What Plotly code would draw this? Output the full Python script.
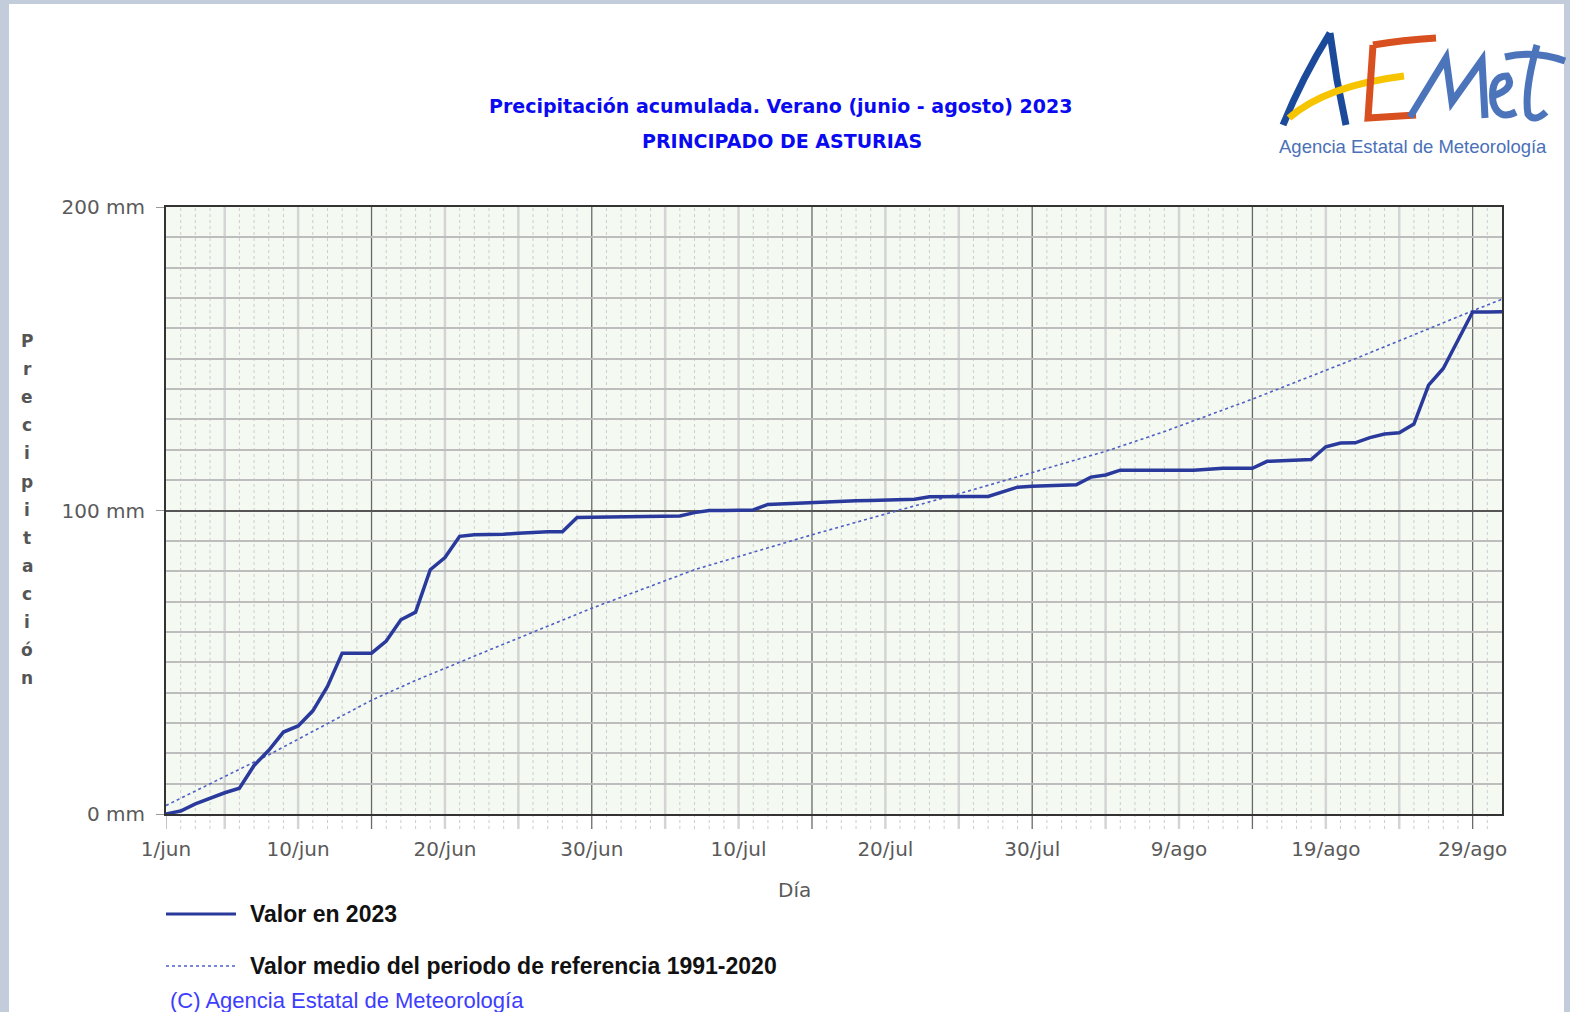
import plotly.graph_objects as go

# ---------------- data ----------------
dias = list(range(92))  # 0 = 1/jun ... 91 = 31/ago
valor_2023 = [0.0, 1.0, 3.3, 5.3, 7.0, 8.5, 16.0, 21.0, 27.0, 29.0,
              34.0, 42.0, 53.0, 53.0, 53.0, 57.0, 64.0, 66.5, 80.5, 84.5,
              91.5, 92.0, 92.0, 92.2, 92.5, 92.8, 93.0, 93.0, 97.7, 97.8,
              97.9, 98.0, 98.0, 98.1, 98.1, 98.2, 99.3, 100.0, 100.0, 100.1,
              100.2, 102.0, 102.2, 102.5, 102.8, 102.9, 103.0, 103.2, 103.3, 103.4,
              103.5, 103.7, 104.5, 104.6, 104.6, 104.6, 104.6, 106.3, 107.7, 108.0,
              108.2, 108.3, 108.5, 111.0, 111.7, 113.3, 113.3, 113.3, 113.3, 113.3,
              113.3, 113.6, 113.9, 113.9, 113.9, 116.2, 116.4, 116.5, 116.8, 121.0,
              122.2, 122.3, 124.0, 125.2, 125.6, 128.5, 141.3, 146.8, 156.0, 165.4,
              165.4, 165.5]
dias_ref = [0, 7, 14, 17, 22, 29, 36, 44, 50, 54, 59, 64, 68, 74, 81, 86, 89, 91]
valor_ref = [2.8, 19.5, 37.5, 44.0, 54.0, 67.8, 80.5, 92.0, 100.2, 105.5,
             112.5, 119.5, 126.0, 136.7, 150.0, 160.0, 165.8, 169.6]

tick_dias = [0, 9, 19, 29, 39, 49, 59, 69, 79, 89]
tick_textos = ["1/jun", "10/jun", "20/jun", "30/jun", "10/jul", "20/jul",
               "30/jul", "9/ago", "19/ago", "29/ago"]
y_ticks = [0, 100, 200]
y_textos = ["0 mm", "100 mm", "200 mm"]

# ---------------- layout geometry ----------------
W, H = 1570, 1012
L, R, T, B = 166, 68, 207, 198
PW = W - L - R
PH = H - T - B


def px(xp):
    return (xp - L) / PW


def py(yp):
    return (H - B - yp) / PH


NAVY = "#2a3a9c"
REFC = "#4f5fc4"
GRAYTXT = "#5a5a5a"

fig = go.Figure()
fig.add_trace(go.Scatter(x=dias_ref, y=valor_ref, mode="lines",
                         line=dict(color=REFC, width=1.6, dash="dot"),
                         showlegend=False, hoverinfo="skip"))
fig.add_trace(go.Scatter(x=dias, y=valor_2023, mode="lines",
                         line=dict(color=NAVY, width=3.5),
                         showlegend=False, hoverinfo="skip"))

shapes = []
# blue-grey page border around white card
BORDER = "#c3ccdb"
for (x0, y0, x1, y1) in [(0, 0, 9, H), (0, 0, W, 4), (1564, 0, W, H)]:
    shapes.append(dict(type="rect", xref="paper", yref="paper",
                       x0=px(x0), x1=px(x1), y0=py(y0), y1=py(y1),
                       fillcolor=BORDER, line=dict(width=0), layer="below"))

# vertical grid: daily dotted, every 5 days light, every 15 days dark
ext = py(H - B + 15)
for d in range(1, 91):
    if (d - 14) % 15 == 0:
        continue
    if (d - 4) % 5 == 0:
        shapes.append(dict(type="line", xref="x", yref="paper", x0=d, x1=d,
                           y0=ext, y1=1, line=dict(color="#d4d4d4", width=2.5),
                           layer="below"))
    else:
        shapes.append(dict(type="line", xref="x", yref="paper", x0=d, x1=d,
                           y0=ext, y1=1, line=dict(color="#cdcdcd", width=1, dash="dot"),
                           layer="below"))
for d in range(14, 91, 15):
    shapes.append(dict(type="line", xref="x", yref="paper", x0=d, x1=d,
                       y0=ext, y1=1, line=dict(color="#6a6a6a", width=1.3),
                       layer="below"))
# left axis tick extension at day 0
shapes.append(dict(type="line", xref="x", yref="paper", x0=0, x1=0,
                   y0=ext, y1=0, line=dict(color="#c4c4c4", width=2), layer="below"))

# legend samples
shapes.append(dict(type="line", xref="paper", yref="paper", x0=px(166), x1=px(236),
                   y0=py(914), y1=py(914), line=dict(color=NAVY, width=3)))
shapes.append(dict(type="line", xref="paper", yref="paper", x0=px(166), x1=px(236),
                   y0=py(966), y1=py(966), line=dict(color=REFC, width=1.6, dash="dot")))


# logo strokes
def path(cmds):
    out = []
    for c in cmds:
        if isinstance(c, str):
            out.append(c)
        else:
            out.append(f"{px(c[0]):.5f},{py(c[1]):.5f}")
    return " ".join(out)


LOGO = [
    ("#1c4a9b", ["M", (1283, 125), "Q", (1302, 78), (1330, 33)]),
    ("#1c4a9b", ["M", (1330, 33), "L", (1337, 80), "L", (1346, 125)]),
    ("#f6c400", ["M", (1289, 118), "Q", (1325, 86), (1404, 76)]),
    ("#d8501f", ["M", (1373, 45), "L", (1368, 118), "L", (1416, 115)]),
    ("#d8501f", ["M", (1373, 45), "Q", (1402, 40), (1436, 38)]),
    ("#4b74bb", ["M", (1410, 117), "L", (1446, 58), "L", (1452, 102), "L", (1482, 60), "L", (1485, 118)]),
    ("#4b74bb", ["M", (1493, 96), "Q", (1516, 88), (1507, 76), "Q", (1490, 76), (1493, 102),
                 "Q", (1498, 121), (1516, 112)]),
    ("#4b74bb", ["M", (1537, 45), "Q", (1524, 92), (1528, 114), "Q", (1534, 123), (1546, 112)]),
    ("#4b74bb", ["M", (1505, 57), "Q", (1535, 50), (1565, 61)]),
]
for col, cmds in LOGO:
    shapes.append(dict(type="path", xref="paper", yref="paper", path=path(cmds),
                       line=dict(color=col, width=7), layer="above"))

annotations = []


def ann(text, x, y, size, color, family, xanchor="center", bold=False):
    annotations.append(dict(text=f"<b>{text}</b>" if bold else text,
                            xref="paper", yref="paper", x=px(x), y=py(y),
                            xanchor=xanchor, yanchor="middle", showarrow=False,
                            font=dict(size=size, color=color, family=family)))


ann("Precipitación acumulada. Verano (junio - agosto) 2023", 780, 106, 19, "#0a0af0",
    "DejaVu Sans", bold=True)
ann("PRINCIPADO DE ASTURIAS", 782, 141, 19, "#0a0af0", "DejaVu Sans", bold=True)
ann("Agencia Estatal de Meteorología", 1413, 147, 18.5, "#4a70b8", "Liberation Sans")
ann("Día", 794, 890, 20, GRAYTXT, "DejaVu Sans")
ann("Valor en 2023", 248, 914, 23, "#111111", "Liberation Sans", "left", True)
ann("Valor medio del periodo de referencia 1991-2020", 248, 966, 23, "#111111",
    "Liberation Sans", "left", True)
ann("(C) Agencia Estatal de Meteorología", 168, 1000, 22, "#3d3dff",
    "Liberation Sans", "left")

letras = list("Precipitación")
for i, ch in enumerate(letras):
    ann(ch, 27, 341 + i * 28.1, 17, "#555555", "DejaVu Sans", bold=True)

fig.update_layout(
    width=W, height=H,
    margin=dict(l=L, r=R, t=T, b=B, pad=0),
    paper_bgcolor="white",
    plot_bgcolor="#f4f9f1",
    shapes=shapes,
    annotations=annotations,
    showlegend=False,
    xaxis=dict(range=[0, 91], tickmode="array", tickvals=tick_dias, ticktext=tick_textos,
               showgrid=False, zeroline=False, showline=True, mirror=True,
               linecolor="#333333", linewidth=2, ticks="outside", ticklen=15,
               tickcolor="rgba(0,0,0,0)", ticklabelstandoff=1,
               tickfont=dict(family="DejaVu Sans", size=20, color=GRAYTXT)),
    yaxis=dict(range=[0, 200], tickmode="array", tickvals=y_ticks, ticktext=y_textos,
               showgrid=True, gridcolor="#555555", gridwidth=1.5, zeroline=False,
               showline=True, mirror=True, linecolor="#333333", linewidth=2,
               ticks="outside", ticklen=8, tickcolor="#999999", ticklabelstandoff=7,
               tickfont=dict(family="DejaVu Sans", size=20, color=GRAYTXT),
               minor=dict(dtick=10, tick0=0, showgrid=True, gridcolor="#bdbdbd", gridwidth=2)),
)

fig.write_html("out.html", config={"displayModeBar": False},
               post_script="document.body.style.margin='0';document.body.style.overflow='hidden';")
